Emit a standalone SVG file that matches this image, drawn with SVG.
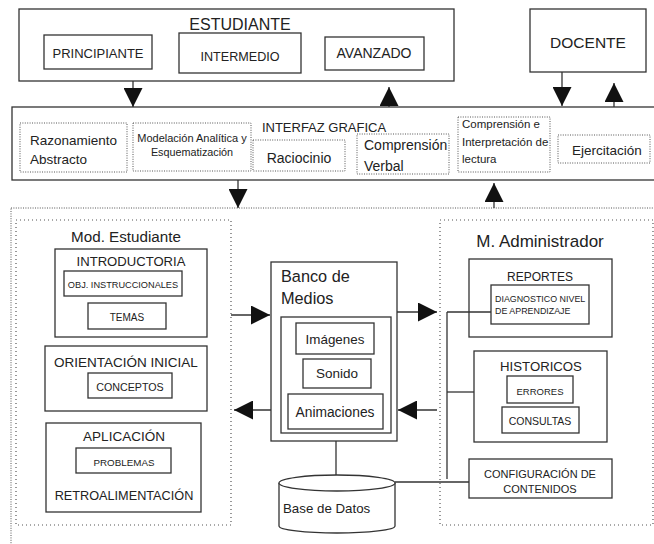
<svg xmlns="http://www.w3.org/2000/svg" width="654" height="544" viewBox="0 0 654 544">
<style>
.box{fill:#fff;stroke:#333;stroke-width:1.3}
.dot{fill:none;stroke:#555;stroke-width:1;stroke-dasharray:1 1.4}
.dot2{fill:none;stroke:#555;stroke-width:1.2;stroke-dasharray:1 3}
.t{font-family:"Liberation Sans",Arial,sans-serif;fill:#222}
.c{text-anchor:middle}
.ln{stroke:#333;stroke-width:1.3;fill:none}
</style>
<defs>
<marker id="ah" viewBox="0 0 20 20" markerUnits="userSpaceOnUse" markerWidth="20" markerHeight="19" refX="20" refY="10" orient="auto">
<path d="M0,0 L20,10 L0,20 Z" fill="#111"/>
</marker>
</defs>
<rect width="654" height="544" fill="#fff"/>

<g id="outer-area">
<rect class="dot" x="11" y="208" width="660" height="350"/>
</g>

<g id="estudiante">
<rect class="box" x="19" y="9" width="435" height="72"/>
<text class="t c" x="240" y="30" font-size="16">ESTUDIANTE</text>
<g id="principiante"><rect class="box" x="44" y="35" width="108" height="34"/><text class="t c" x="98" y="57.5" font-size="13">PRINCIPIANTE</text></g>
<g id="intermedio"><rect class="box" x="179" y="33" width="122" height="40"/><text class="t c" x="240" y="61" font-size="12.6">INTERMEDIO</text></g>
<g id="avanzado"><rect class="box" x="325" y="37" width="99" height="33"/><text class="t c" x="374" y="58" font-size="14">AVANZADO</text></g>
</g>

<g id="docente">
<rect class="box" x="530" y="9" width="116" height="63"/>
<text class="t c" x="588" y="48" font-size="15.5">DOCENTE</text>
</g>

<g id="interfaz">
<rect class="box" x="12" y="107" width="650" height="73"/>
<text class="t c" x="324" y="132" font-size="13">INTERFAZ GRAFICA</text>
<g id="razonamiento"><rect class="dot" x="20" y="123" width="107" height="49"/><text class="t" x="30" y="145" font-size="13.5">Razonamiento</text><text class="t" x="30" y="164" font-size="13.5">Abstracto</text></g>
<g id="modelacion"><rect class="dot" x="133" y="123" width="118" height="48"/><text class="t c" x="192" y="142" font-size="11">Modelación Analítica y</text><text class="t c" x="192" y="156" font-size="10.8">Esquematización</text></g>
<g id="raciocinio"><rect class="dot" x="253" y="140" width="92" height="31"/><text class="t c" x="299" y="163" font-size="14">Raciocinio</text></g>
<g id="comprension-verbal"><rect class="dot" x="357" y="134" width="92" height="40"/><text class="t" x="364" y="150" font-size="14">Comprensión</text><text class="t" x="364" y="171" font-size="14">Verbal</text></g>
<g id="comprension-lectura"><rect class="dot" x="458" y="117" width="92" height="55"/><text class="t" x="462" y="128" font-size="11.5">Comprensión e</text><text class="t" x="462" y="146" font-size="11.5">Interpretación de</text><text class="t" x="462" y="163" font-size="11.5">lectura</text></g>
<g id="ejercitacion"><rect class="dot" x="558" y="135" width="92" height="28"/><text class="t" x="572" y="155" font-size="13.5">Ejercitación</text></g>
</g>

<g id="mod-estudiante">
<rect class="dot2" x="16" y="220" width="215" height="305"/>
<text class="t c" x="126" y="242" font-size="15.2">Mod. Estudiante</text>
<g id="introductoria"><rect class="box" x="55" y="249" width="152" height="88"/><text class="t c" x="131" y="266" font-size="13.1">INTRODUCTORIA</text>
<rect class="box" x="64" y="271" width="118" height="25"/><text class="t c" x="123" y="288" font-size="9.2">OBJ. INSTRUCCIONALES</text>
<rect class="box" x="88" y="303" width="78" height="26"/><text class="t c" x="127" y="321" font-size="10">TEMAS</text></g>
<g id="orientacion"><rect class="box" x="45" y="346" width="162" height="65"/><text class="t c" x="126" y="367" font-size="13.5">ORIENTACIÓN INICIAL</text>
<rect class="box" x="88" y="373" width="84" height="25"/><text class="t c" x="130" y="391" font-size="10.7">CONCEPTOS</text></g>
<g id="aplicacion"><rect class="box" x="46" y="423" width="155" height="89"/><text class="t c" x="124" y="441" font-size="13.5">APLICACIÓN</text>
<rect class="box" x="76" y="448" width="95" height="25"/><text class="t c" x="124" y="466" font-size="9.8">PROBLEMAS</text>
<text class="t c" x="124" y="500" font-size="12.7">RETROALIMENTACIÓN</text></g>
</g>

<g id="banco-medios">
<rect class="box" x="271" y="262" width="126" height="179"/>
<text class="t" x="281" y="282" font-size="16.3">Banco de</text>
<text class="t" x="281" y="304" font-size="16.3">Medios</text>
<rect class="box" x="281" y="317" width="110" height="116"/>
<g id="imagenes"><rect class="box" x="296" y="323" width="78" height="31"/><text class="t c" x="335" y="344" font-size="13.4">Imágenes</text></g>
<g id="sonido"><rect class="box" x="303" y="359" width="68" height="29"/><text class="t c" x="337" y="378" font-size="13.5">Sonido</text></g>
<g id="animaciones"><rect class="box" x="288" y="394" width="95" height="35"/><text class="t c" x="335" y="417" font-size="13.8">Animaciones</text></g>
</g>

<g id="base-datos">
<path class="box" d="M279,483 L279,526 A58,7 0 0 0 395,526 L395,483"/>
<ellipse class="box" cx="337" cy="483" rx="58" ry="8"/>
<text class="t" x="283" y="513" font-size="13.3">Base de Datos</text>
</g>

<g id="m-administrador">
<rect class="dot2" x="440" y="220" width="213" height="305"/>
<text class="t c" x="540" y="247" font-size="17">M. Administrador</text>
<g id="reportes"><rect class="box" x="469" y="259" width="143" height="78"/><text class="t c" x="540" y="281" font-size="12">REPORTES</text>
<rect class="box" x="491" y="285" width="98" height="39"/><text class="t" x="495" y="302" font-size="8.9">DIAGNOSTICO NIVEL</text><text class="t" x="495" y="314" font-size="8.9">DE APRENDIZAJE</text></g>
<g id="historicos"><rect class="box" x="474" y="351" width="133" height="91"/><text class="t c" x="541" y="371" font-size="13.2">HISTORICOS</text>
<rect class="box" x="507" y="376" width="66" height="27"/><text class="t c" x="540" y="395" font-size="9.5">ERRORES</text>
<rect class="box" x="502" y="407" width="77" height="26"/><text class="t c" x="540" y="425" font-size="10.5">CONSULTAS</text></g>
<g id="configuracion"><rect class="box" x="469" y="459" width="143" height="39"/><text class="t c" x="540" y="478" font-size="11">CONFIGURACIÓN DE</text><text class="t c" x="540" y="493" font-size="11">CONTENIDOS</text></g>
</g>

<g id="connectors">
<line class="ln" x1="133" y1="81" x2="133" y2="107" marker-end="url(#ah)"/>
<line class="ln" x1="389" y1="107" x2="389" y2="87" marker-end="url(#ah)"/>
<line class="ln" x1="562" y1="72" x2="562" y2="106" marker-end="url(#ah)"/>
<line class="ln" x1="614" y1="107" x2="614" y2="83" marker-end="url(#ah)"/>
<line class="ln" x1="238" y1="180" x2="238" y2="208" marker-end="url(#ah)"/>
<line class="ln" x1="494" y1="208" x2="494" y2="183" marker-end="url(#ah)"/>
<line class="ln" x1="231" y1="315" x2="270" y2="315" marker-end="url(#ah)"/>
<line class="ln" x1="271" y1="410" x2="234" y2="410" marker-end="url(#ah)"/>
<line class="ln" x1="397" y1="312" x2="437" y2="312" marker-end="url(#ah)"/>
<line class="ln" x1="437" y1="410" x2="398" y2="410" marker-end="url(#ah)"/>
<line class="ln" x1="336" y1="441" x2="336" y2="475"/>
<line class="ln" x1="395" y1="482" x2="469" y2="482"/>
<line class="ln" x1="447" y1="312" x2="447" y2="479"/>
<line class="ln" x1="447" y1="312" x2="491" y2="312"/>
<line class="ln" x1="447" y1="392" x2="474" y2="392"/>
</g>
</svg>
